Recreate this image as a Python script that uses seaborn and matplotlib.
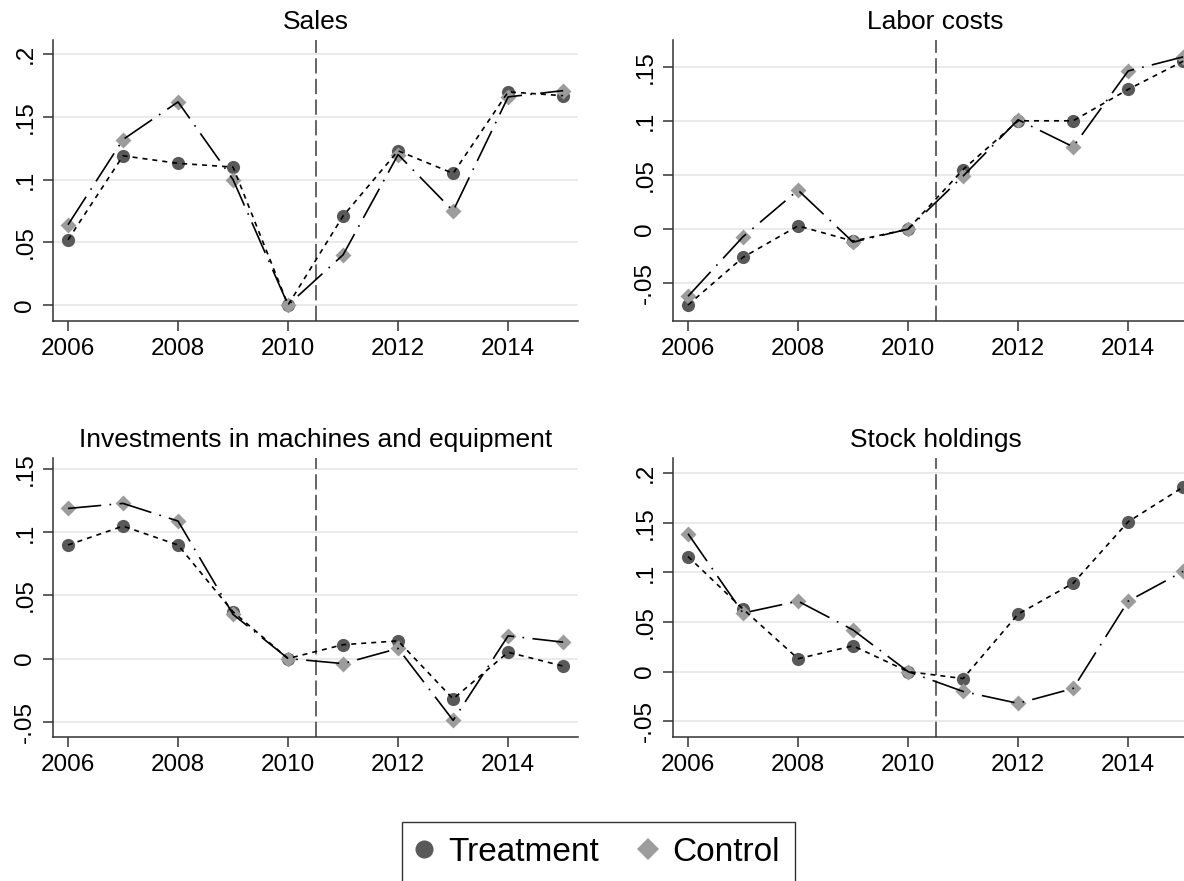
import numpy as np
import pandas as pd
import matplotlib
matplotlib.use('Agg')
import matplotlib.pyplot as plt
from matplotlib.lines import Line2D
from matplotlib.ticker import FuncFormatter
import seaborn as sns

# data (base year 2010 = 0)
years = list(range(2006, 2016))

sales_treat = [0.052, 0.119, 0.113, 0.110, 0.0, 0.071, 0.123, 0.105, 0.170, 0.167]
sales_ctrl = [0.064, 0.132, 0.162, 0.100, 0.0, 0.040, 0.120, 0.075, 0.166, 0.171]

labor_treat = [-0.070, -0.026, 0.003, -0.011, 0.0, 0.055, 0.100, 0.100, 0.129, 0.155]
labor_ctrl = [-0.062, -0.007, 0.036, -0.012, 0.0, 0.049, 0.101, 0.076, 0.146, 0.159]

invest_treat = [0.090, 0.105, 0.090, 0.037, 0.0, 0.011, 0.014, -0.032, 0.005, -0.006]
invest_ctrl = [0.119, 0.123, 0.109, 0.035, 0.0, -0.004, 0.008, -0.049, 0.018, 0.013]

stock_treat = [0.116, 0.063, 0.013, 0.026, 0.0, -0.007, 0.058, 0.089, 0.151, 0.186]
stock_ctrl = [0.139, 0.059, 0.071, 0.042, 0.0, -0.020, -0.032, -0.017, 0.071, 0.101]

titles = ['Sales', 'Labor costs', 'Investments in machines and equipment', 'Stock holdings']
treat_series = [sales_treat, labor_treat, invest_treat, stock_treat]
ctrl_series = [sales_ctrl, labor_ctrl, invest_ctrl, stock_ctrl]

yticks = [[0, 0.05, 0.1, 0.15, 0.2],
          [-0.05, 0, 0.05, 0.1, 0.15],
          [-0.05, 0, 0.05, 0.1, 0.15],
          [-0.05, 0, 0.05, 0.1, 0.15, 0.2]]
ylims = [(-0.0128, 0.2114), (-0.0848, 0.1746), (-0.0622, 0.159), (-0.0659, 0.2153)]
xticks = [2006, 2008, 2010, 2012, 2014]
treat_year = 2010.5

rows = []
for t, tr, ct in zip(titles, treat_series, ctrl_series):
    for y, a, b in zip(years, tr, ct):
        rows.append((t, y, 'Treatment', a))
        rows.append((t, y, 'Control', b))
df = pd.DataFrame(rows, columns=['panel', 'year', 'group', 'value'])

sns.set_theme(style='white')
plt.rcParams['font.family'] = ['Liberation Sans', 'DejaVu Sans']
plt.rcParams['text.color'] = 'black'
plt.rcParams['xtick.color'] = 'black'
plt.rcParams['ytick.color'] = 'black'
plt.rcParams['axes.titlecolor'] = 'black'

W, H = 1184, 881
fig = plt.figure(figsize=(W / 100, H / 100), dpi=100)

# pixel boxes (left, top, right, bottom) - right panels run past the crop like the original
boxes = [(53, 40, 578, 321), (673, 40, 1198, 321),
         (53, 458, 578, 737), (673, 458, 1198, 737)]

def stata_fmt(v, pos):
    s = f"{v:.2f}".rstrip('0').rstrip('.')
    if s in ('', '-0', '-'):
        s = '0'
    return s.replace('0.', '.')

dark = '#595959'
light = '#9c9c9c'
axcol = '#333333'

for i, t in enumerate(titles):
    l, tp, r, b = boxes[i]
    ax = fig.add_axes([l / W, 1 - b / H, (r - l) / W, (b - tp) / H])
    sub = df[df['panel'] == t]

    sns.scatterplot(data=sub[sub['group'] == 'Treatment'], x='year', y='value',
                    marker='o', s=90, color=dark, linewidth=0, ax=ax, zorder=2, legend=False)
    sns.scatterplot(data=sub[sub['group'] == 'Control'], x='year', y='value',
                    marker='D', s=66, color=light, linewidth=0, ax=ax, zorder=3, legend=False)
    sns.lineplot(data=sub, x='year', y='value', style='group',
                 dashes={'Treatment': (3, 3), 'Control': (20, 5, 1, 5)},
                 color='black', linewidth=1.2, ax=ax, legend=False, zorder=4)

    ax.axvline(treat_year, color='#3c3c3c', lw=1.1, dashes=(10, 3.5), zorder=1)

    ax.set_xlim(2005.727, 2015.27)
    ax.set_ylim(*ylims[i])
    ax.set_xticks(xticks)
    ax.set_yticks(yticks[i])
    ax.yaxis.set_major_formatter(FuncFormatter(stata_fmt))
    ax.yaxis.grid(True, color='#e6e6e6', lw=1.2, zorder=0)
    ax.xaxis.grid(False)
    ax.set_axisbelow(True)

    for side in ['top', 'right']:
        ax.spines[side].set_visible(False)
    for side in ['left', 'bottom']:
        ax.spines[side].set_color(axcol)
        ax.spines[side].set_linewidth(1.1)

    ax.tick_params(axis='both', which='major', direction='out', length=7, width=1.1,
                   color=axcol, labelcolor='black', labelsize=17.5, pad=5,
                   bottom=True, left=True)
    ax.tick_params(axis='y', labelrotation=90)
    for lab in ax.get_yticklabels():
        lab.set_verticalalignment('center')

    ax.set_xlabel('')
    ax.set_ylabel('')
    ax.set_title(t, fontsize=19, pad=8, color='black')

handles = [Line2D([], [], marker='o', linestyle='none', markersize=13,
                  markerfacecolor=dark, markeredgewidth=0),
           Line2D([], [], marker='D', linestyle='none', markersize=11,
                  markerfacecolor=light, markeredgewidth=0)]
leg = fig.legend(handles, ['Treatment', 'Control'], ncol=2, loc='upper left',
                 bbox_to_anchor=(402 / W, 1 - 822 / H), fontsize=24,
                 frameon=True, fancybox=False, borderpad=0.45, handlelength=0.4,
                 handletextpad=0.55, columnspacing=1.25, borderaxespad=0)
leg.get_frame().set_edgecolor('black')
leg.get_frame().set_linewidth(1.0)
for txt in leg.get_texts():
    txt.set_color('black')

fig.savefig('out.png', dpi=100)
